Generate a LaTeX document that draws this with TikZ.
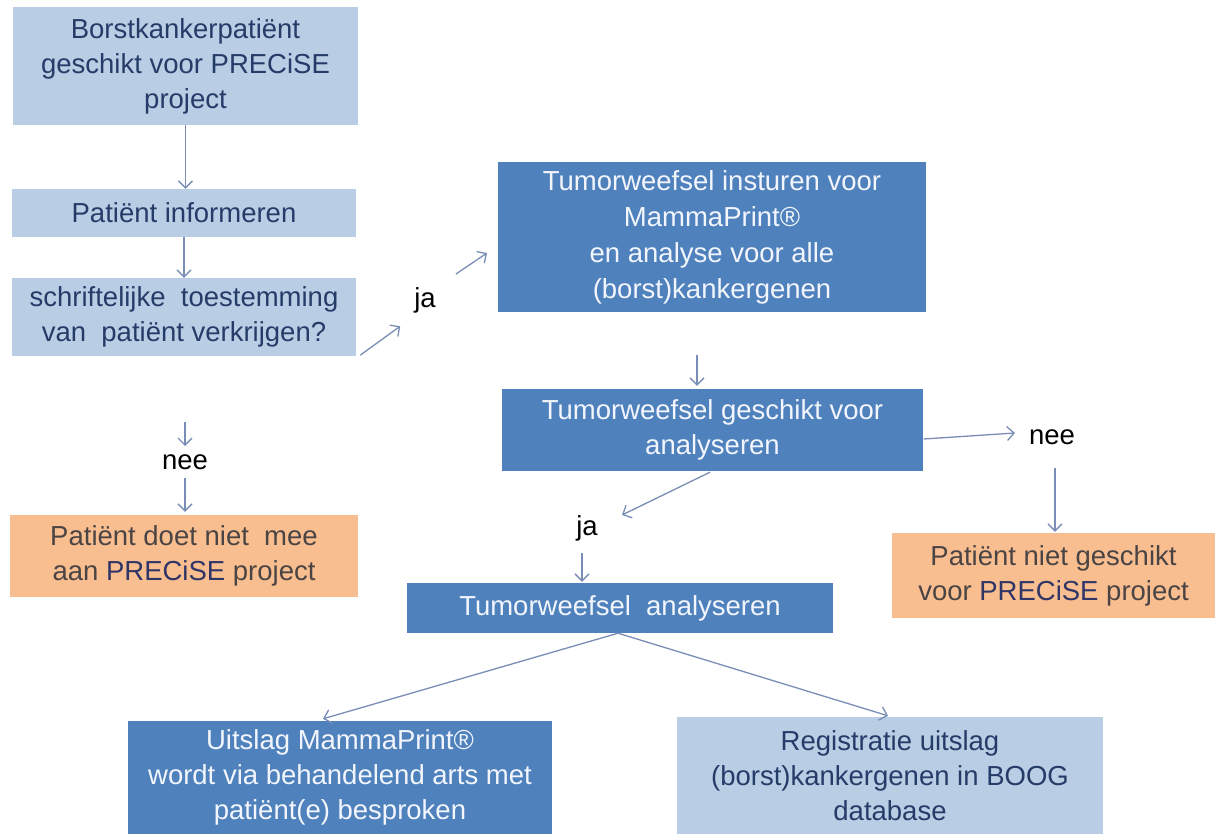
\documentclass[tikz,border=0pt]{standalone}
\usepackage{fontspec}
\setmainfont{Liberation Sans}
\usetikzlibrary{arrows.meta,calc}
\definecolor{lightbox}{HTML}{B9CDE5}
\definecolor{darkbox}{HTML}{4F81BD}
\definecolor{orangebox}{HTML}{F9BE8F}
\definecolor{navytext}{HTML}{263C68}
\definecolor{whitetext}{HTML}{F2F6FC}
\definecolor{graytext}{HTML}{4A4444}
\definecolor{precisecol}{HTML}{2F3566}
\definecolor{arrowcol}{HTML}{7A8DB6}
\begin{document}
\begin{tikzpicture}[x=1pt,y=-1pt,
  box/.style={rectangle, inner sep=0pt, align=center, font=\fontsize{27.5}{35}\selectfont},
  lightbx/.style={box, fill=lightbox, text=navytext},
  darkbx/.style={box, fill=darkbox, text=whitetext},
  orangebx/.style={box, fill=orangebox, text=graytext},
  lbl/.style={inner sep=0pt, font=\fontsize{27.5}{35}\selectfont, text=black},
  arr/.style={draw=arrowcol, line width=1.3pt, -{Straight Barb[length=7pt,width=14pt]}},
]
\fill[white] (0,0) rectangle (1215,834);
\useasboundingbox (0,0) rectangle (1215,834);

\node[lightbx, minimum width=345pt, minimum height=118pt] (A) at (185.5,66)
  {Borstkankerpatiënt\\geschikt voor PRECiSE\\project};
\node[lightbx, minimum width=344pt, minimum height=48pt] (B) at (184,213)
  {Patiënt informeren};
\node[lightbx, minimum width=344pt, minimum height=78pt] (C) at (184,317)
  {schriftelijke\ \ toestemming\\van\ \ patiënt verkrijgen?};
\node[darkbx, minimum width=428pt, minimum height=150pt, font=\fontsize{27.5}{36}\selectfont] (D) at (712,237)
  {Tumorweefsel insturen voor\\MammaPrint®\\en analyse voor alle\\(borst)kankergenen};
\node[darkbx, minimum width=421pt, minimum height=82pt] (E) at (712.5,430)
  {Tumorweefsel geschikt voor\\analyseren};
\node[orangebx, minimum width=348pt, minimum height=82pt] (F) at (184,556)
  {Patiënt doet niet\ \ mee\\aan \textcolor{precisecol}{PRECiSE} project};
\node[orangebx, minimum width=323pt, minimum height=85pt] (G) at (1053.5,575.5)
  {Patiënt niet geschikt\\voor \textcolor{precisecol}{PRECiSE} project};
\node[darkbx, minimum width=426pt, minimum height=50pt] (H) at (620,608)
  {Tumorweefsel\ \ analyseren};
\node[darkbx, minimum width=424pt, minimum height=113pt] (I) at (340,777.5)
  {Uitslag MammaPrint®\\wordt via behandelend arts met\\patiënt(e) besproken};
\node[lightbx, minimum width=426pt, minimum height=117pt] (J) at (890,775.5)
  {Registratie uitslag\\(borst)kankergenen in BOOG\\database};

\node[lbl] (ja1) at (425,300) {ja};
\node[lbl] (nee1) at (185,462) {nee};
\node[lbl] (nee2) at (1052,437) {nee};
\node[lbl] (ja2) at (587,528) {ja};

\draw[arr] (A.south) -- (A.south |- B.north);
\draw[arr] (B.south) -- (C.north);
\draw[arr] ($(C.south east)+(4,-1)$) -- ($(C.south east)+(44,-30)$);
\draw[arr] ($(ja1)+(31,-26)$) -- ($(ja1)+(62,-47)$);
\draw[arr] ($(C.south)+(1,66)$) -- ($(nee1)+(0,-16)$);
\draw[arr] ($(nee1)+(0,16)$) -- ($(F.north)+(1,-3)$);
\draw[arr] ($(D.south)+(-15,43)$) -- ($(E.north)+(-15.5,-3)$);
\draw[arr] ($(E.east)+(0.5,9)$) -- ($(nee2)+(-37,-4)$);
\draw[arr] ($(nee2)+(3,31)$) -- ($(G.north)+(1.5,-1)$);
\draw[arr] ($(E.south)+(-2.5,1)$) -- ($(ja2)+(35,-13)$);
\draw[arr] ($(ja2)+(-5,25)$) -- ($(H.north)+(-38,-1)$);
\draw[arr] ($(H.south)+(-2,0)$) -- ($(I.north)+(-17,-2)$);
\draw[arr] ($(H.south)+(-2,0)$) -- ($(J.north)+(-2,-1)$);
\end{tikzpicture}
\end{document}
